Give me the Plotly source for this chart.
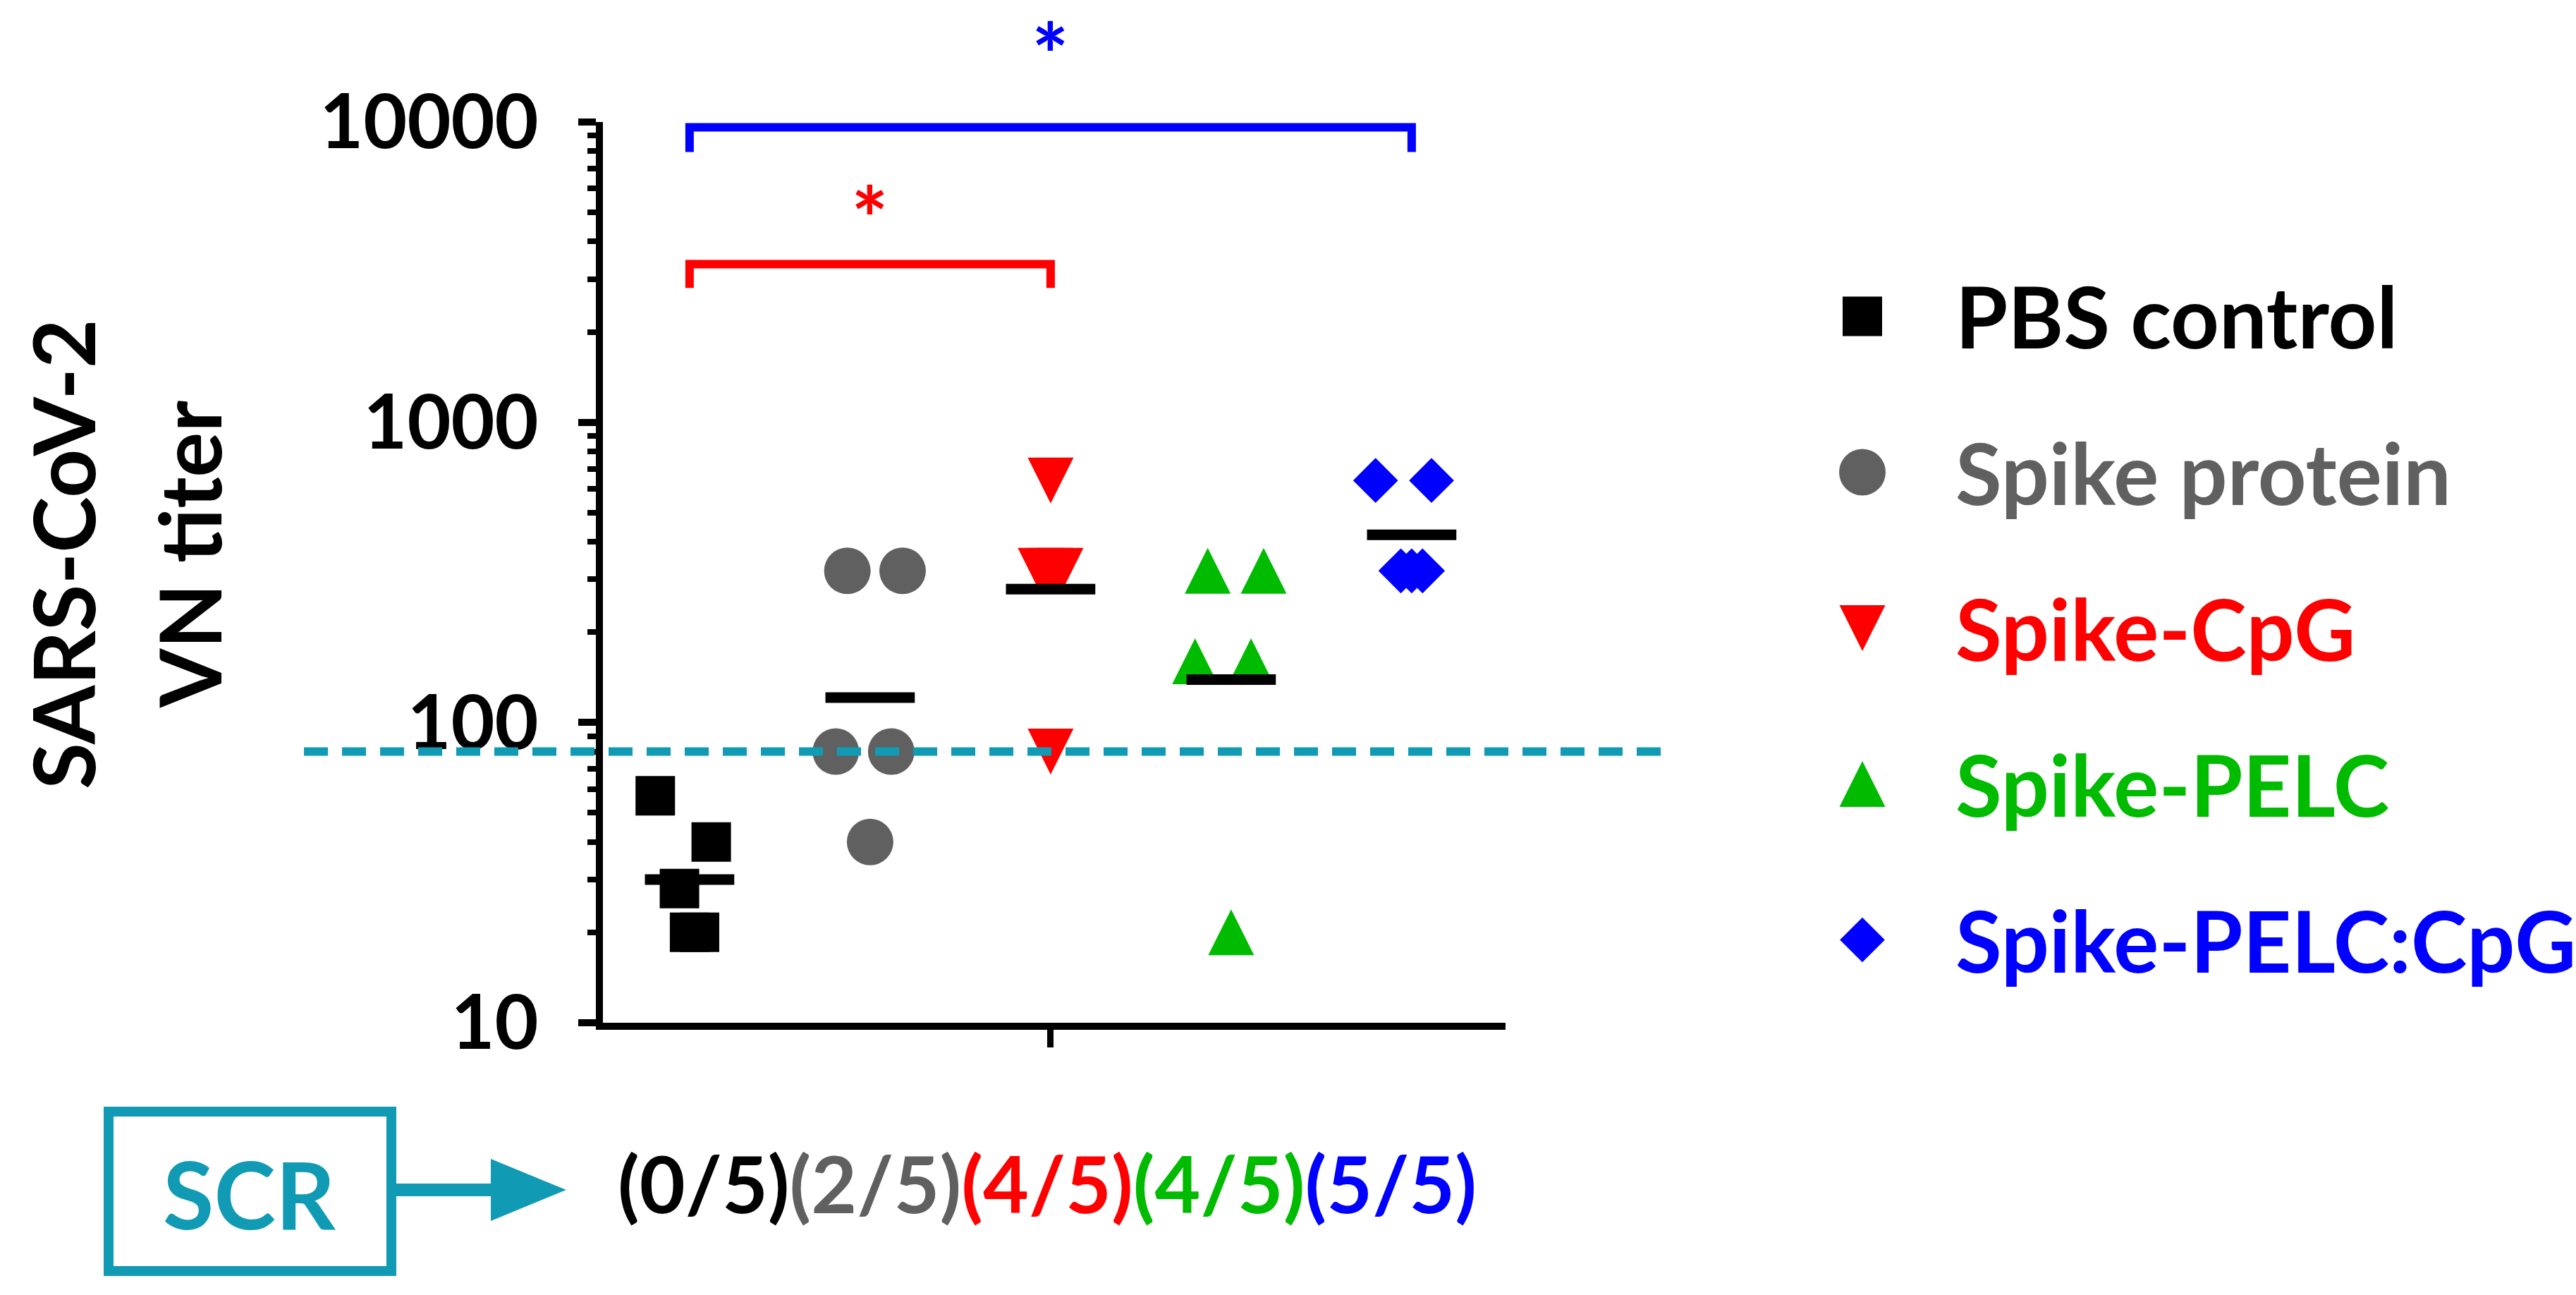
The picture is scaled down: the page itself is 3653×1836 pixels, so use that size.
import math
import plotly.graph_objects as go

W, H = 3653, 1836

groups = ["PBS control", "Spike protein", "Spike-CpG", "Spike-PELC", "Spike-PELC:CpG"]
colors = ["#000000", "#606060", "#FF0000", "#00BB00", "#0000FF"]

# VN titers per mouse
pbs = [57, 40, 28, 20, 20]
spike = [320, 320, 80, 80, 40]
spike_cpg = [640, 320, 320, 320, 80]
spike_pelc = [320, 320, 160, 160, 20]
spike_pelc_cpg = [640, 640, 320, 320, 320]
means = [30, 121, 278, 139, 422]
cutoff = 80
scr = ["(0/5)", "(2/5)", "(4/5)", "(4/5)", "(5/5)"]

# significance brackets
red_x = [1, 1, 3, 3]
red_y = [2800, 3360, 3360, 2800]
blue_x = [1, 1, 5, 5]
blue_y = [7950, 9600, 9600, 7950]
red_star = (2, 5430)

values = [pbs, spike, spike_cpg, spike_pelc, spike_pelc_cpg]

# horizontal spread of the dots inside each column
jitter = [
    [-0.19, 0.12, -0.056, 0.0, 0.055],
    [-0.126, 0.18, -0.19, 0.117, 0.0],
    [0.0, -0.055, 0.0, 0.055, 0.0],
    [-0.13, 0.18, -0.2, 0.11, 0.0],
    [-0.2, 0.11, -0.06, 0.0, 0.06],
]

styles = [
    dict(symbol="square", size=56, angle=0, standoff=0),
    dict(symbol="circle", size=66, angle=0, standoff=0),
    dict(symbol="arrow-down", size=65, angle=0, standoff=32.5),
    dict(symbol="arrow-down", size=65, angle=180, standoff=32.5),
    dict(symbol="diamond", size=49, angle=0, standoff=0),
]

TEAL = "#119AB4"
FONT = "Lato"


def px(x):
    return x / W


def py(y):
    return 1 - y / H


fig = go.Figure()

for i, vals in enumerate(values):
    st = styles[i]
    fig.add_trace(go.Scatter(
        x=[i + 1 + j for j in jitter[i]], y=vals, mode="markers",
        marker=dict(symbol=st["symbol"], size=st["size"], angle=st["angle"], opacity=1,
                    standoff=st["standoff"], color=colors[i], line=dict(width=0)),
        cliponaxis=False, showlegend=False, name=groups[i]))

# mean bars
mx, my = [], []
for i, m in enumerate(means):
    mx += [i + 1 - 0.2475, i + 1 + 0.2475, None]
    my += [m, m, None]
fig.add_trace(go.Scatter(x=mx, y=my, mode="lines", line=dict(color="black", width=15),
                         showlegend=False, hoverinfo="skip"))

fig.add_trace(go.Scatter(x=red_x, y=red_y, mode="lines", line=dict(color="#FF0000", width=12),
                         showlegend=False, hoverinfo="skip"))
fig.add_trace(go.Scatter(x=blue_x, y=blue_y, mode="lines", line=dict(color="#0000FF", width=12),
                         showlegend=False, hoverinfo="skip"))

# hand-made legend on its own axes
fig.add_trace(go.Scatter(
    x=[0] * len(groups), y=list(range(len(groups))), mode="markers",
    marker=dict(symbol=[s["symbol"] for s in styles], size=[s["size"] for s in styles],
                angle=[s["angle"] for s in styles], standoff=[s["standoff"] for s in styles],
                color=colors, opacity=1, line=dict(width=0)),
    xaxis="x2", yaxis="y2", showlegend=False, hoverinfo="skip", cliponaxis=False))

annotations = []
for i, g in enumerate(groups):
    annotations.append(dict(
        text=g, x=px(2771), xref="paper", xanchor="left", y=i, yref="y2", yanchor="middle",
        showarrow=False, font=dict(family=FONT, size=120, color=colors[i], weight="bold")))

# y-axis title, two lines
for txt, xc in [("SARS-CoV-2", 89), ("VN titer", 268)]:
    annotations.append(dict(
        text=txt, x=px(xc), y=py(786), xref="paper", yref="paper", textangle=-90,
        xanchor="center", yanchor="middle", showarrow=False,
        font=dict(family=FONT, size=120, color="black", weight="bold")))

# asterisks
annotations.append(dict(
    text="*", x=red_star[0], y=math.log10(red_star[1]), xref="x", yref="y", showarrow=False,
    xanchor="center", yanchor="middle", yshift=-22,
    font=dict(family=FONT, size=124, color="#FF0000", weight="bold")))
annotations.append(dict(
    text="*", x=3, y=py(54), xref="x", yref="paper", showarrow=False,
    xanchor="center", yanchor="middle", yshift=-22,
    font=dict(family=FONT, size=124, color="#0000FF", weight="bold")))

# SCR row
annotations.append(dict(
    text="SCR", x=px(354), y=py(1692), xref="paper", yref="paper", showarrow=False,
    xanchor="center", yanchor="middle",
    font=dict(family=FONT, size=132, color=TEAL, weight="bold")))
frac = "".join('<span style="color:%s">%s</span>' % (c, t) for t, c in zip(scr, colors))
annotations.append(dict(
    text=frac, x=px(1485), y=py(1676), xref="paper", yref="paper", showarrow=False,
    xanchor="center", yanchor="middle",
    font=dict(family=FONT, size=112, color="black", weight="bold")))

shapes = [
    dict(type="line", xref="paper", yref="y", x0=px(431), x1=px(2359), y0=cutoff, y1=cutoff,
         line=dict(color=TEAL, width=12, dash="34px,20px"), layer="above"),
    dict(type="rect", xref="paper", yref="paper", x0=px(154), x1=px(555), y0=py(1802), y1=py(1576),
         line=dict(color=TEAL, width=14), fillcolor="white"),
    dict(type="rect", xref="paper", yref="paper", x0=px(555), x1=px(700), y0=py(1696), y1=py(1678),
         line=dict(width=0), fillcolor=TEAL),
    dict(type="path", xref="paper", yref="paper",
         path="M %f,%f L %f,%f L %f,%f Z" % (px(696), py(1643), px(803), py(1687), px(696), py(1731)),
         line=dict(width=0), fillcolor=TEAL),
]

fig.update_layout(
    width=W, height=H, margin=dict(l=0, r=0, t=0, b=0, pad=0),
    paper_bgcolor="white", plot_bgcolor="white", showlegend=False,
    xaxis=dict(domain=[px(855), px(2135)], range=[0.52, 5.52], showgrid=False, zeroline=False,
               showline=True, linewidth=10, linecolor="black", ticks="outside", tickvals=[3],
               ticklen=25, tickwidth=9, tickcolor="black", showticklabels=False,
               automargin=False, fixedrange=True),
    yaxis=dict(domain=[py(1450), py(173)], type="log", range=[1, 4], showgrid=False, zeroline=False,
               showline=True, linewidth=10, linecolor="black", ticks="outside",
               tickvals=[10, 100, 1000, 10000], ticktext=["10", "100", "1000", "10000"],
               ticklen=25, tickwidth=10, tickcolor="black", ticklabelstandoff=35,
               tickfont=dict(family=FONT, size=107, color="black", weight="bold"),
               minor=dict(ticks="outside", dtick="D1", ticklen=12, tickwidth=8, tickcolor="black",
                          showgrid=False),
               automargin=False, fixedrange=True),
    xaxis2=dict(domain=[px(2541), px(2741)], range=[-1, 1], visible=False, anchor="y2",
                automargin=False, fixedrange=True),
    yaxis2=dict(domain=[py(1443), py(338)], range=[4.5, -0.5], visible=False, anchor="x2",
                automargin=False, fixedrange=True),
    annotations=annotations, shapes=shapes,
)

# drop the default page margin so the figure sits at the window origin
fig.write_html("out.html", config={"displayModeBar": False},
               post_script="document.body.style.margin = '0';")
